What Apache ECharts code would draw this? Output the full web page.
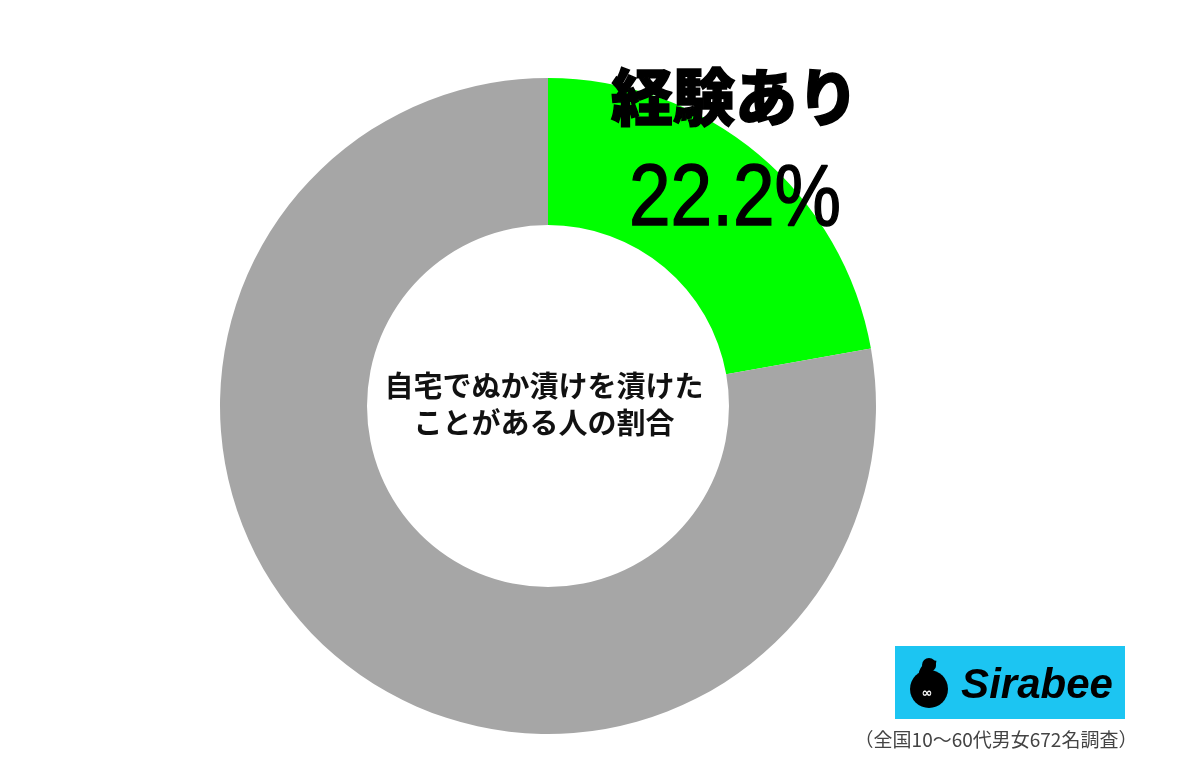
<!DOCTYPE html>
<html>
<head>
<meta charset="utf-8">
<script src="https://cdn.jsdelivr.net/npm/echarts@6/dist/echarts.min.js"></script>
<style>
  html, body { margin: 0; padding: 0; background: #fff; }
  #main { width: 1200px; height: 766px; }
</style>
</head>
<body>
<div id="main"></div>
<script>
// data
const categories = ['経験あり', 'なし']
const values = [22.2, 77.8]
const colors = ['#00ff00', '#a6a6a6']
const centerLines = ['自宅でぬか漬けを漬けた', 'ことがある人の割合']
const footnote = '（全国10～60代男女672名調査）'

const chart = echarts.init(document.getElementById('main'), null, { renderer: 'canvas' })

const cx = 548, cy = 406

let option = {
  backgroundColor: '#fff',
  animation: false,
  series: [
    {
      type: 'pie',
      center: [cx, cy],
      radius: [181, 328],
      startAngle: 90,
      clockwise: true,
      silent: true,
      z: 1,
      label: { show: false },
      labelLine: { show: false },
      itemStyle: { borderWidth: 0 },
      data: categories.map((c, i) => ({
        name: c,
        value: values[i],
        itemStyle: { color: colors[i] }
      }))
    }
  ],
  graphic: {
    elements: [
      // label for the highlighted slice
      {
        type: 'text',
        z: 100,
        x: 735, y: 97,
        style: {
          text: categories[0],
          font: '900 62px "Noto Sans CJK JP"',
          fill: '#000',
          stroke: '#000',
          lineWidth: 1.5,
          align: 'center',
          verticalAlign: 'middle'
        }
      },
      {
        type: 'text',
        z: 100,
        x: 735, y: 201,
        scaleX: 0.85,
        style: {
          text: values[0].toFixed(1) + '%',
          font: '88px "Liberation Sans", Arial, sans-serif',
          fill: '#000',
          stroke: '#000',
          lineWidth: 1.5,
          align: 'center',
          verticalAlign: 'middle'
        }
      },
      // centre text
      {
        type: 'text',
        z: 100,
        x: cx - 4, y: 404,
        style: {
          text: centerLines.join('\n'),
          font: 'bold 29px "Noto Sans CJK JP"',
          lineHeight: 37,
          fill: '#111',
          align: 'center',
          verticalAlign: 'middle'
        }
      },
      // logo box
      {
        type: 'rect',
        z: 100,
        shape: { x: 895, y: 646, width: 230, height: 73 },
        style: { fill: '#1cc5f2' }
      },
      {
        type: 'circle',
        z: 101,
        shape: { cx: 929, cy: 689, r: 19 },
        style: { fill: '#000' }
      },
      {
        type: 'circle',
        z: 101,
        shape: { cx: 929, cy: 665, r: 7 },
        style: { fill: '#000' }
      },
      {
        type: 'arc',
        z: 101,
        shape: { cx: 934, cy: 676, r: 12, startAngle: Math.PI * 1.05, endAngle: Math.PI * 1.55 },
        style: { stroke: '#000', lineWidth: 7, fill: null }
      },
      {
        type: 'text',
        z: 102,
        x: 927, y: 694,
        style: {
          text: '∞',
          font: 'bold 13px "DejaVu Sans"',
          fill: '#fff',
          align: 'center',
          verticalAlign: 'middle'
        }
      },
      {
        type: 'text',
        z: 101,
        x: 1037, y: 686,
        style: {
          text: 'Sirabee',
          font: 'italic bold 42px "Liberation Sans", sans-serif',
          fill: '#000',
          align: 'center',
          verticalAlign: 'middle'
        }
      },
      // footnote
      {
        type: 'text',
        z: 100,
        x: 996, y: 740,
        style: {
          text: footnote,
          font: '19px "Noto Sans CJK JP"',
          fill: '#444',
          align: 'center',
          verticalAlign: 'middle'
        }
      }
    ]
  }
}

chart.setOption(option)
</script>
</body>
</html>
